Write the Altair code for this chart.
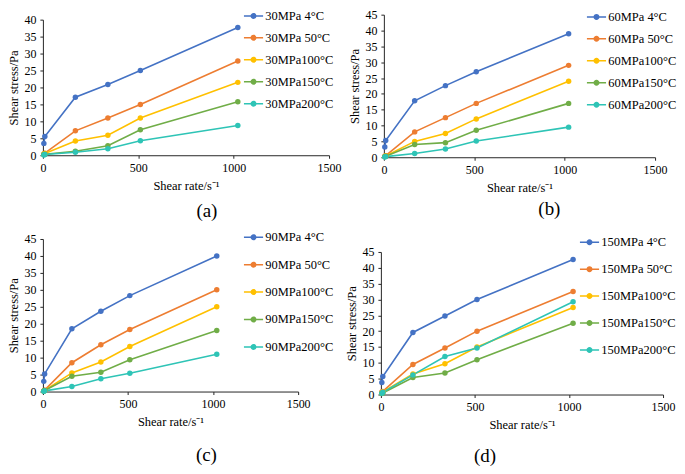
import altair as alt
import pandas as pd

shear_rate = [5.1, 10.2, 170.3, 340.6, 510.9, 1021.8]
temps = ["4°C", "50°C", "100°C", "150°C", "200°C"]
palette = ["#4472C4", "#ED7D31", "#FFC000", "#70AD47", "#2EC4B6"]

# shear stress (Pa), one list per temperature, in the order of temps
stress_30 = [
    [3.5, 5.5, 17.1, 20.9, 25.0, 37.7],
    [0.4, 0.6, 7.2, 11.0, 15.0, 27.8],
    [0.3, 0.5, 4.2, 5.9, 11.0, 21.5],
    [0.2, 0.3, 1.2, 2.8, 7.5, 15.8],
    [0.1, 0.2, 0.9, 1.9, 4.3, 8.8],
]
stress_60 = [
    [3.2, 5.3, 17.8, 22.6, 27.0, 39.0],
    [0.3, 0.5, 8.0, 12.5, 17.0, 29.0],
    [0.2, 0.4, 5.0, 7.5, 12.1, 24.0],
    [0.2, 0.3, 4.0, 4.6, 8.5, 17.0],
    [0.1, 0.2, 1.2, 2.6, 5.1, 9.5],
]
stress_90 = [
    [3.0, 5.2, 18.5, 23.7, 28.3, 40.0],
    [0.2, 0.4, 8.5, 13.8, 18.3, 30.0],
    [0.2, 0.3, 5.5, 8.7, 13.3, 25.0],
    [0.1, 0.3, 4.5, 5.7, 9.4, 18.0],
    [0.1, 0.2, 1.5, 3.8, 5.4, 11.0],
]
stress_150 = [
    [3.8, 5.7, 19.6, 24.8, 30.0, 42.6],
    [0.8, 1.0, 9.5, 14.7, 20.0, 32.5],
    [0.5, 0.8, 6.5, 9.7, 15.0, 27.5],
    [0.3, 0.5, 5.4, 6.8, 11.0, 22.5],
    [0.4, 0.7, 6.2, 12.0, 14.7, 29.3],
]

FONT = "Liberation Serif"
# legend symbol: a short bar with a dot on it (filled path, 1 unit = 6px at size 144)
SYMBOL = ("M-1.6,-0.125L1.6,-0.125L1.6,0.125L-1.6,0.125Z "
          "M0.5,0A0.5,0.5,0,1,1,-0.5,0A0.5,0.5,0,1,1,0.5,0Z")


def series_name(p, t):
    return f"{p}MPa {t}" if len(t) < 5 else f"{p}MPa{t}"


def make_axis(values, title, title_pad):
    return alt.Axis(values=values, title=title, grid=False, format="d", labelFlush=False,
                    domainColor="#262626", tickColor="#262626", tickSize=3,
                    labelFont=FONT, labelFontSize=12, labelColor="black", labelPadding=4,
                    titleFont=FONT, titleFontSize=12.5, titleFontWeight="normal",
                    titleColor="black", titlePadding=title_pad)


def panel(p, stress, w, h, gap, ymax, lx, ly, rowpad, caption, cap_dx, cap_off):
    # gap: empty strip above the plot so that panels in a row can start at different heights
    names = [series_name(p, t) for t in temps]
    rows = []
    for name, vals in zip(names, stress):
        for x, y in zip(shear_rate, vals):
            rows.append({"rate": x, "stress": y, "series": name})
    df = pd.DataFrame(rows)

    base = alt.Chart(df).encode(
        alt.X("rate:Q", axis=make_axis([0, 500, 1000, 1500], "Shear rate/s⁻¹", 6))
            .scale(domain=[0, 1500], nice=False),
        alt.Y("stress:Q", axis=make_axis(list(range(0, ymax + 1, 5)), "Shear stress/Pa", 3))
            .scale(domain=[0, ymax], range=[h + gap, gap], nice=False),
    )
    legend = alt.Legend(title=None, orient="none", legendX=lx, legendY=ly,
                        symbolType=SYMBOL, symbolSize=144, symbolStrokeWidth=0,
                        rowPadding=rowpad, labelFont=FONT, labelFontSize=12.5,
                        labelColor="black", labelOffset=5.6, padding=0)
    color = alt.Color("series:N", legend=legend).scale(domain=names, range=palette)

    line = base.mark_line(strokeWidth=1.6).encode(color=color)
    dots = base.mark_point(filled=True, size=30, opacity=1).encode(color=color)
    return (line + dots).properties(
        width=w, height=h + gap,
        title=alt.TitleParams(caption, orient="bottom", frame="group", anchor="middle",
                              dx=cap_dx, offset=cap_off, font=FONT, fontSize=19,
                              fontWeight="normal", color="black"),
    )


a = panel(30, stress_30, 287, 136, 5, 40, 205, -5, 9, "(a)", 21, 10)
b = panel(60, stress_60, 272, 143, 0, 45, 207, -4, 9, "(b)", 30, 6)
c = panel(90, stress_90, 256, 153, 0, 45, 205, -8, 14.5, "(c)", 36, 18)
d = panel(150, stress_150, 283, 143, 13, 45, 203, -3, 14, "(d)", -37, 16)

top = alt.hconcat(a, b, spacing=8).resolve_scale(color="independent").resolve_legend(color="independent")
bottom = alt.hconcat(c, d, spacing=12).resolve_scale(color="independent").resolve_legend(color="independent")

chart = alt.vconcat(top, bottom, spacing=10).resolve_scale(
    color="independent").resolve_legend(color="independent").properties(
    padding=0).configure_view(stroke=None)

chart.save("out.html", embed_options={"renderer": "svg", "actions": False})
